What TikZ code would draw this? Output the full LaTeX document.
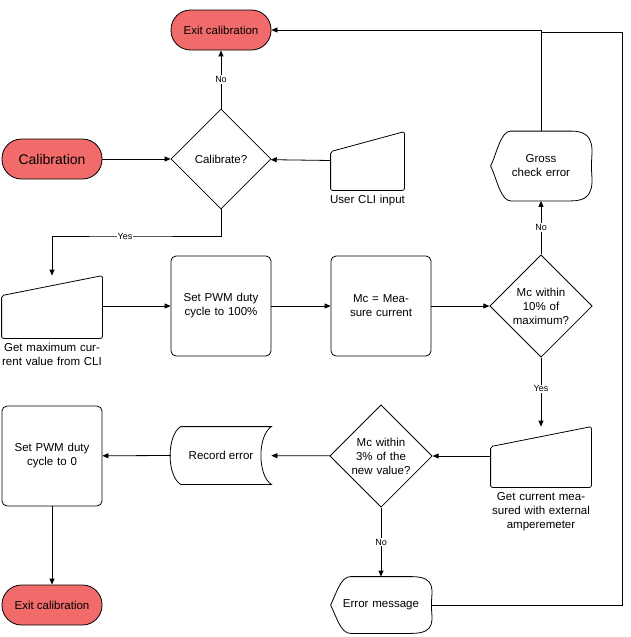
\documentclass[tikz,border=0pt]{standalone}
\usepackage{fontspec}
\setmainfont{Liberation Sans}
\usetikzlibrary{shapes.geometric,arrows.meta,calc}
\definecolor{termred}{HTML}{F26B6B}

\begin{document}
\begin{tikzpicture}[x=1pt,y=-1pt,font=\fontsize{11.5}{14}\selectfont,
		line width=0.8pt, >={Triangle[length=6pt,width=5pt]},
		terminal/.style={draw, fill=termred, rounded corners=19.5pt, minimum width=100pt, minimum height=40pt},
		process/.style={draw, rounded corners=5pt, minimum width=100pt, minimum height=100pt, align=center, text width=90pt},
		decision/.style={draw, diamond, aspect=1, minimum size=100pt, inner sep=0pt, align=center, text width=66pt},
		shapebox/.style={minimum width=100pt, align=center},
		caption/.style={align=center, text width=100pt}]
		\useasboundingbox (0,0) rectangle (630,637);

		% terminals
		\node[terminal] (exittop) at (221,30) {Exit calibration};
		\node[terminal, font=\fontsize{14}{16}\selectfont] (calib) at (52,159) {Calibration};
		\node[terminal] (exitbot) at (52,605) {Exit calibration};

		% decisions
		\node[decision] (ask) at (221,159) {Calibrate?};
		\node[decision] (ten) at (541,306) {Mc within 10\% of maximum?};
		\node[decision] (three) at (381,456) {Mc within 3\% of the new value?};

		% processes
		\node[process] (pwmfull) at (221,306) {Set PWM duty cycle to 100\%};
		\node[process] (measure) at (381,306) {Mc = Measure current};
		\node[process] (pwmzero) at (52,456) {Set PWM duty cycle to 0};

		% manual inputs
		\node[shapebox, minimum width=73pt, minimum height=58pt] (cli) at (367.5,161) {};
		\node[shapebox, minimum height=62pt] (maxcli) at (52,307) {};
		\node[shapebox, minimum height=60pt] (amp) at (541,457) {};
		\foreach \n in {cli,maxcli,amp} {
				\draw[rounded corners=2pt] ($(\n.north west)+(0,20)$) -- (\n.north east) -- (\n.south east) -- (\n.south west) -- cycle;
			}
		\node[caption, below=1pt] (clitext) at (cli.south) {User CLI input};
		\node[caption, below=1pt] (maxclitext) at (maxcli.south) {Get maximum current value from CLI};
		\node[caption, below=1pt] (amptext) at (amp.south) {Get current measured with external amperemeter};

		% displays
		\node[shapebox, minimum height=69pt] (gross) at (541,166) {};
		\node[shapebox, minimum height=56pt] (errmsg) at (381,605) {};
		\foreach \n in {gross,errmsg} {
				\draw (\n.west) .. controls ($(\n.west)+(6,-12)$) and ($(\n.north west)+(10,0)$) .. ($(\n.north west)+(20,0)$)
				-- ($(\n.north east)+(-20,0)$) .. controls ($(\n.north east)+(6,0)$) and ($(\n.east)+(0,-14)$) .. (\n.east)
				.. controls ($(\n.east)+(0,14)$) and ($(\n.south east)+(6,0)$) .. ($(\n.south east)+(-20,0)$)
				-- ($(\n.south west)+(20,0)$) .. controls ($(\n.south west)+(10,0)$) and ($(\n.west)+(6,12)$) .. (\n.west);
			}
		\node[caption, text width=80pt] at (gross) {Gross check error};
		\node[caption] at (errmsg) {Error message};

		% stored data
		\node[shapebox, minimum height=57pt] (record) at (221,455.5) {};
		\draw ($(record.north west)+(10,0)$) -- (record.north east)
		.. controls ($(record.east)+(-14,-20)$) and ($(record.east)+(-14,20)$) .. (record.south east)
		-- ($(record.south west)+(10,0)$)
		.. controls ($(record.west)+(-4,20)$) and ($(record.west)+(-4,-20)$) .. ($(record.north west)+(10,0)$);
		\node at (record) {Record error};

		% connectors
		\draw[->] (calib) -- (ask);
		\draw[->] (cli) -- (ask);
		\draw[->] (ask) -- node[fill=white, inner sep=1pt, font=\fontsize{9}{10}\selectfont] {No} (exittop);
		\draw[->] (ask.south) |- (125,236) node[fill=white, inner sep=1pt, font=\fontsize{9}{10}\selectfont] {Yes} -| (maxcli.north);
		\draw[->] (maxcli.east |- pwmfull) -- (pwmfull);
		\draw[->] (pwmfull) -- (measure);
		\draw[->] (measure) -- (ten);
		\draw[->] (ten) -- node[fill=white, inner sep=1pt, font=\fontsize{9}{10}\selectfont] {No} (gross);
		\draw[->] (gross.north) |- (exittop.east);
		\draw[->] (ten) -- node[fill=white, inner sep=1pt, font=\fontsize{9}{10}\selectfont, pos=0.45] {Yes} (amp.north);
		\draw[->] (amp.west |- three) -- (three);
		\draw[->] (three) -- (record);
		\draw[->] (record.west) -- (pwmzero);
		\draw[->] (pwmzero) -- (exitbot);
		\draw[->] (three) -- node[fill=white, inner sep=1pt, font=\fontsize{9}{10}\selectfont] {No} (errmsg);
		\draw (errmsg.east) -| (622,32) -- (541,32);
	\end{tikzpicture}
\end{document}
